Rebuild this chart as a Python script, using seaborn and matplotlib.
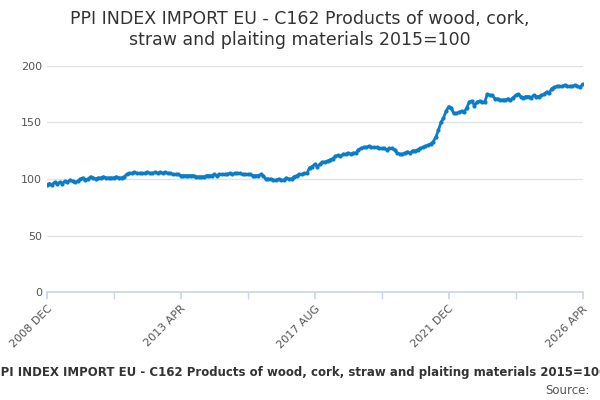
import matplotlib
matplotlib.use("Agg")
import matplotlib.pyplot as plt
import seaborn as sns
import pandas as pd
import numpy as np

start = "2008-12"
values = [95,
 96,95,97,96,97,96,98,97,99,98,97,98,
 100,101,99,100,102,101,100,101,101,102,101,101,
 101,101,102,101,101,102,104,105,105,106,105,105,
 105,105,106,105,105,106,105,106,105,106,105,105,
 104,104,104,103,103,103,103,103,103,102,102,102,
 102,103,103,103,104,103,104,104,104,104,105,104,
 105,105,105,104,104,104,104,103,103,103,104,103,
 100,100,100,99,99,100,99,99,101,100,100,102,
 103,104,104,105,105,110,111,113,111,113,115,115,
 116,117,118,120,121,120,122,122,123,122,123,123,
 126,127,128,128,129,128,128,128,127,127,127,126,
 127,127,126,123,122,122,123,124,123,125,125,126,
 127,128,129,130,131,133,137,143,150,154,160,164,
 163,158,158,159,160,159,163,168,169,165,168,169,
 168,168,175,174,174,171,171,170,170,170,171,170,
 172,174,175,173,172,173,173,172,174,173,173,174,
 175,177,176,180,181,182,182,182,183,182,182,182,
 183,182,181,184]
tick_labels = ["2008 DEC", "2013 APR", "2017 AUG", "2021 DEC", "2026 APR"]
title = "PPI INDEX IMPORT EU - C162 Products of wood, cork,\nstraw and plaiting materials 2015=100"
footer = "PPI INDEX IMPORT EU - C162 Products of wood, cork, straw and plaiting materials 2015=100"

df = pd.DataFrame({"i": np.arange(len(values)), "v": values})

sns.set_theme(style="white")
fig = plt.figure(figsize=(6, 4), dpi=100)
ax = fig.add_axes([0.078, 0.27, 0.893, 0.565])
sns.lineplot(data=df, x="i", y="v", ax=ax, color="#0a7dc8", linewidth=2,
             marker="o", markersize=3, markeredgewidth=0)
n = len(values) - 1
ax.set_xlim(0, n)
ax.set_ylim(0, 200)
ax.set_yticks([0, 50, 100, 150, 200])
ax.yaxis.grid(True, color="#e3e3e3", linewidth=1)
major = [0, n/4, n/2, 3*n/4, n]
ax.set_xticks(major)
ax.set_xticklabels(tick_labels, rotation=45, ha="right", rotation_mode="anchor", fontsize=8, color="#555555")
ax.set_xticks([n/8, 3*n/8, 5*n/8, 7*n/8], minor=True)
ax.tick_params(axis="x", which="both", length=5, color="#ccd6eb", bottom=True)
ax.tick_params(axis="y", labelsize=8, colors="#555555", length=0)
for s in ["top", "right", "left"]:
    ax.spines[s].set_visible(False)
ax.spines["bottom"].set_color("#ccd6eb")
ax.set_xlabel(""); ax.set_ylabel("")
fig.text(0.5, 0.975, title, ha="center", va="top", fontsize=12.5, color="#333333")
fig.text(0.5, 0.068, footer, ha="center", va="center", fontsize=8.5, color="#333333", fontweight="bold")
fig.text(0.982, 0.025, "Source:", ha="right", va="center", fontsize=8.5, color="#555555")
fig.savefig("out.png", dpi=100)
